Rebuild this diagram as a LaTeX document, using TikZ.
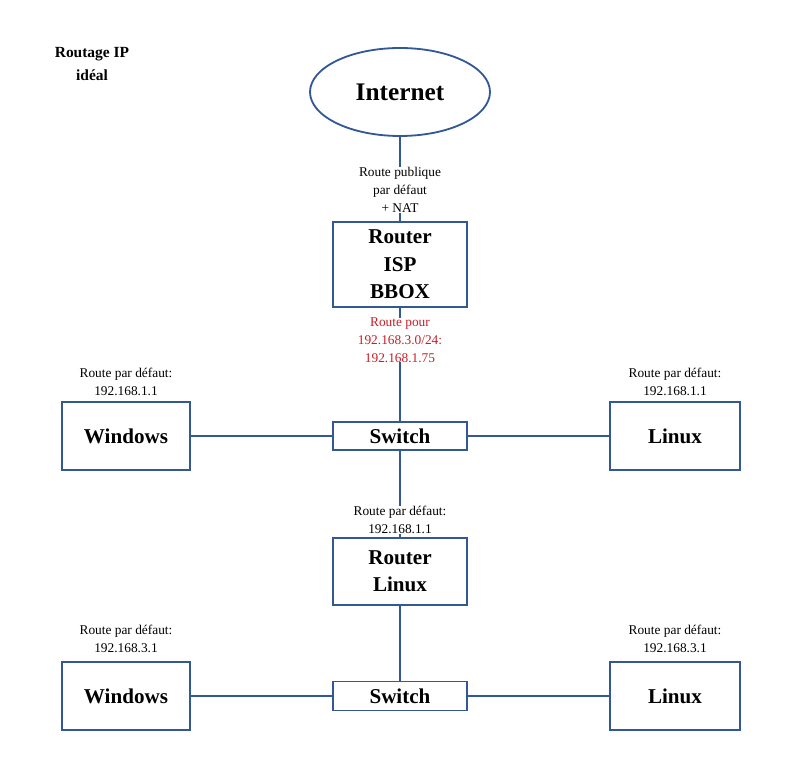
\documentclass[tikz,border=0pt]{standalone}
\usepackage{fontspec}
\setmainfont{Liberation Serif}
\usetikzlibrary{positioning, shapes.geometric}
\definecolor{netblue}{RGB}{52,88,150}
\definecolor{routered}{RGB}{200,30,40}

\begin{document}
\begin{tikzpicture}[x=0.025cm, y=-0.025cm]
            \tikzset{box/.style={draw=netblue, line width=1.3pt, align=center, font=\fontsize{15}{19.5}\selectfont\bfseries, inner sep=0pt}}
            \tikzset{note/.style={align=center, font=\fontsize{9.5}{12.8}\selectfont, inner sep=0pt}}
            \tikzset{wire/.style={draw=netblue, line width=1.3pt}}
            \useasboundingbox (0, 0) rectangle (800, 780);
            \node[align=center, font=\fontsize{11}{16}\selectfont\bfseries] (title) at (92, 64) {Routage IP\\idéal};
            % top part
            \node[box, ellipse, minimum width=180*0.025cm, minimum height=88*0.025cm, font=\fontsize{18}{20}\selectfont\bfseries] (internet) at (400, 92) {Internet};
            \node[box, minimum width=134*0.025cm, minimum height=85*0.025cm] (isp) at (400, 264.5) {Router\\ISP\\BBOX};
            \node[box, minimum width=134*0.025cm, minimum height=28*0.025cm] (switchA) at (400, 436) {Switch};
            \node[box, minimum width=128*0.025cm, minimum height=68*0.025cm] (winA) at (126, 436) {Windows};
            \node[box, minimum width=130*0.025cm, minimum height=68*0.025cm] (linA) at (675, 436) {Linux};
            \draw[wire] (internet) -- (isp);
            \draw[wire] (isp) -- (switchA);
            \draw[wire] (winA) -- (switchA);
            \draw[wire] (switchA) -- (linA);
            \node[note, fill=white] (pub) at (400, 190) {Route publique\\par défaut\\+ NAT};
            \node[note, fill=white, text=routered] (red) at (400, 340) {Route pour\\192.168.3.0/24:\\192.168.1.75};
            \node[note] (gwWinA) at (126, 382) {Route par défaut:\\192.168.1.1};
            \node[note] (gwLinA) at (675, 382) {Route par défaut:\\192.168.1.1};
            % bottom part
            \node[box, minimum width=134*0.025cm, minimum height=67*0.025cm] (rlin) at (400, 571.5) {Router\\Linux};
            \node[box, minimum width=134*0.025cm, minimum height=29*0.025cm] (switchB) at (400, 696) {Switch};
            \node[box, minimum width=128*0.025cm, minimum height=68*0.025cm] (winB) at (126, 696) {Windows};
            \node[box, minimum width=130*0.025cm, minimum height=68*0.025cm] (linB) at (675, 696) {Linux};
            \draw[wire] (switchA) -- (rlin);
            \draw[wire] (rlin) -- (switchB);
            \draw[wire] (winB) -- (switchB);
            \draw[wire] (switchB) -- (linB);
            \node[note, fill=white] (gwR) at (400, 520) {Route par défaut:\\192.168.1.1};
            \node[note] (gwWinB) at (126, 639) {Route par défaut:\\192.168.3.1};
            \node[note] (gwLinB) at (675, 639) {Route par défaut:\\192.168.3.1};
        \end{tikzpicture}
\end{document}
